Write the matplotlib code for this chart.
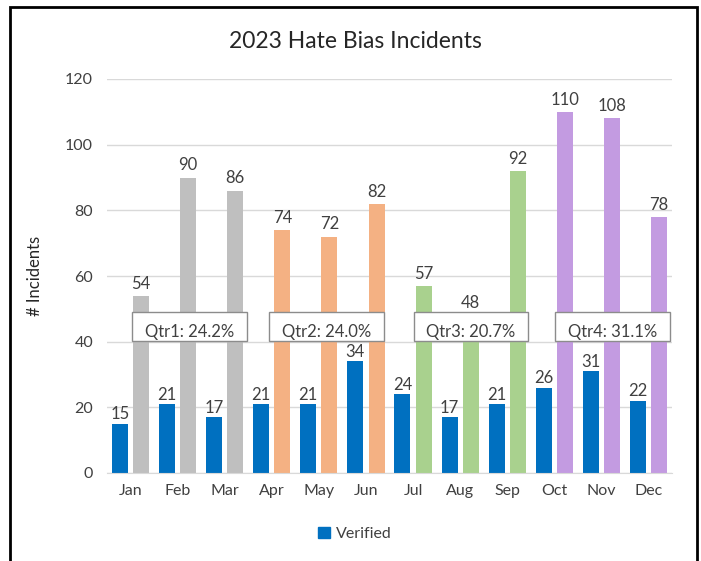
import matplotlib
matplotlib.use("Agg")
import matplotlib.pyplot as plt
from matplotlib.patches import Rectangle, Patch
import numpy as np

months = ["Jan", "Feb", "Mar", "Apr", "May", "Jun", "Jul", "Aug", "Sep", "Oct", "Nov", "Dec"]
verified = [15, 21, 17, 21, 21, 34, 24, 17, 21, 26, 31, 22]
total = [54, 90, 86, 74, 72, 82, 57, 48, 92, 110, 108, 78]
quarter_labels = ["Qtr1: 24.2%", "Qtr2: 24.0%", "Qtr3: 20.7%", "Qtr4: 31.1%"]
quarter_colors = ["#BFBFBF", "#F4B183", "#A9D18E", "#C39BE1"]
blue = "#0070C0"

plt.rcParams['font.family'] = ['Lato', 'DejaVu Sans']

fig = plt.figure(figsize=(7.01, 5.61), dpi=100)
ax = fig.add_axes([107/701, 1-473/561, (672-107)/701, (473-79)/561])

x = np.arange(len(months))
bw = 0.34
off = 0.225
total_colors = [quarter_colors[i // 3] for i in range(12)]

ax.bar(x - off, verified, bw, color=blue, zorder=2, label="Verified")
ax.bar(x + off, total, bw, color=total_colors, zorder=2)

lbl_color = "#404040"
for xi, v in zip(x, verified):
    ax.annotate(str(v), (xi - off, v), xytext=(0, 1), textcoords="offset points",
                ha="center", va="bottom", fontsize=12, color=lbl_color, zorder=5)
for xi, v in zip(x, total):
    ax.annotate(str(v), (xi + off, v), xytext=(0, 3), textcoords="offset points",
                ha="center", va="bottom", fontsize=12, color=lbl_color, zorder=5)

# quarter annotation boxes
q_centers = [1.25, 4.16, 7.23, 10.24]
box_w = 2.43
box_lo, box_hi = 40.2, 48.9
for qc, ql in zip(q_centers, quarter_labels):
    ax.add_patch(Rectangle((qc - box_w/2, box_lo), box_w, box_hi - box_lo,
                           facecolor="white", edgecolor="#8C8C8C", lw=1.0, zorder=6))
    ax.text(qc, box_lo + 0.2, ql, ha="center", va="bottom", fontsize=12,
            color=lbl_color, zorder=7)

ax.set_xlim(-0.5, 11.5)
ax.set_ylim(0, 120)
ax.set_yticks(np.arange(0, 121, 20))
ax.set_xticks(x)
ax.set_xticklabels(months)
ax.grid(axis="y", color="#D9D9D9", lw=1.0, zorder=0)
ax.set_axisbelow(True)
for s in ["top", "right", "left"]:
    ax.spines[s].set_visible(False)
ax.spines["bottom"].set_color("#D9D9D9")
ax.tick_params(axis="both", length=0, labelsize=11.5, colors="#404040")
ax.tick_params(axis="x", pad=8)
ax.tick_params(axis="y", pad=10)
ax.set_ylabel("# Incidents", fontsize=12, color="#262626", labelpad=16)

fig.text(0.507, 1-41/561, "2023 Hate Bias Incidents", ha="center", va="center",
         fontsize=16.5, color="#262626")

fig.legend(handles=[Patch(color=blue, label="Verified")], loc="center",
           bbox_to_anchor=(355/701, 1-534/561), frameon=False, fontsize=11.5,
           handlelength=0.7, handleheight=0.7, handletextpad=0.4, labelcolor="#404040")

# outer border
fig.add_artist(Rectangle((10/701, -0.05), (697-10)/701, 1.05 - 7/561, transform=fig.transFigure,
                         fill=False, edgecolor="black", lw=2.0))

fig.savefig("out.png", dpi=100)
